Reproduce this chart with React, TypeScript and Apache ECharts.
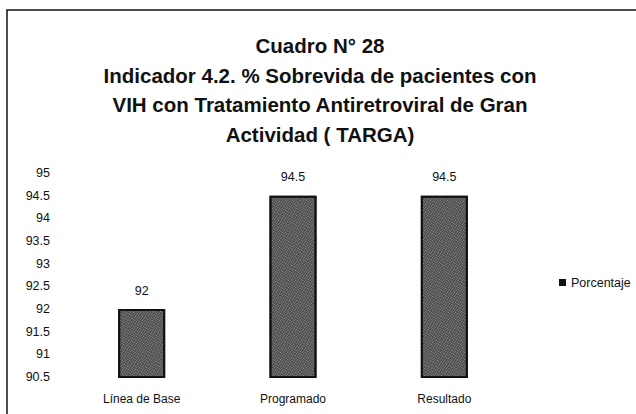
import React, { useEffect, useRef } from "react";
import * as echarts from "echarts";

const titleLines = [
  "Cuadro N° 28",
  "Indicador 4.2. % Sobrevida de pacientes con",
  "VIH con Tratamiento Antiretroviral de Gran",
  "Actividad ( TARGA)",
];
const categories = ["Línea de Base", "Programado", "Resultado"];
const values = [92, 94.5, 94.5];
const seriesName = "Porcentaje";
const yMin = 90.5;
const yMax = 95;
const yStep = 0.5;

export default function App() {
  const ref = useRef<HTMLDivElement>(null);
  useEffect(() => {
    if (!ref.current) return;
    const chart = echarts.init(ref.current, null, { renderer: "svg" });
    const font = "'Liberation Sans', Arial, sans-serif";
    chart.setOption({
      animation: false,
      backgroundColor: "#ffffff",
      title: {
        text: titleLines.join("\n"),
        left: 315,
        top: 26,
        textAlign: "center",
        textStyle: {
          fontFamily: font,
          fontSize: 20.5,
          fontWeight: "bold",
          color: "#111",
          lineHeight: 29.5,
        },
      },
      legend: {
        data: [seriesName],
        left: 554,
        top: 271,
        itemWidth: 7,
        itemHeight: 7,
        itemGap: 4,
        icon: "rect",
        itemStyle: { color: "#111", borderWidth: 0, decal: "none" },
        textStyle: { fontFamily: font, fontSize: 12.5, color: "#111" },
      },
      grid: { left: 66, right: 116, top: 173, bottom: 37 },
      xAxis: {
        type: "category",
        data: categories,
        axisLine: { show: false },
        axisTick: { show: false },
        axisLabel: { fontFamily: font, fontSize: 12, color: "#111", margin: 16 },
      },
      yAxis: {
        type: "value",
        min: yMin,
        max: yMax,
        interval: yStep,
        axisLine: { show: false },
        axisTick: { show: false },
        splitLine: { show: false },
        axisLabel: { fontFamily: font, fontSize: 12.5, color: "#111", margin: 16 },
      },
      series: [
        {
          name: seriesName,
          type: "bar",
          data: values,
          barWidth: 47,
          itemStyle: {
            color: "#4a4a4a",
            borderColor: "#111",
            borderWidth: 2,
            decal: {
              symbol: "rect",
              symbolSize: 1,
              dashArrayX: [1, 1],
              dashArrayY: [1, 1],
              rotation: 0.6,
              color: "rgba(255,255,255,0.45)",
            },
          },
          label: {
            show: true,
            position: "top",
            distance: 12,
            fontFamily: font,
            fontSize: 12.5,
            color: "#111",
          },
        },
      ],
      graphic: [
        {
          type: "polyline",
          shape: { points: [[7, 414], [7, 10], [636, 10]] },
          style: { stroke: "#111", lineWidth: 1.5, fill: null },
        },
      ],
    });
    return () => chart.dispose();
  }, []);
  return (
    <div
      ref={ref}
      style={{ position: "fixed", left: 0, top: 0, width: 636, height: 414 }}
    />
  );
}
